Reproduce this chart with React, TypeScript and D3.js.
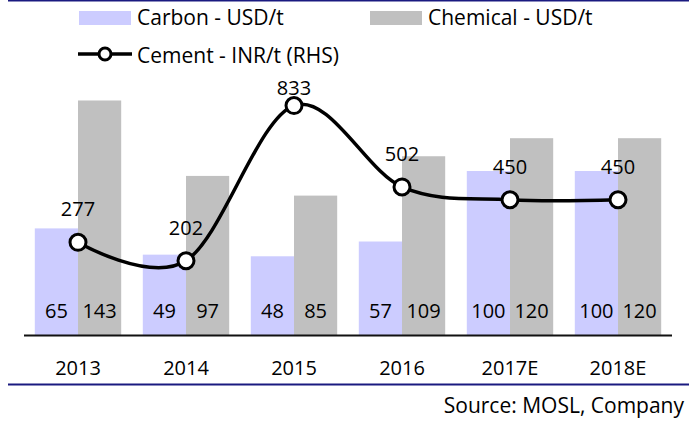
import React, { useEffect, useRef } from 'react'
import * as d3 from 'd3'

const years = ['2013', '2014', '2015', '2016', '2017E', '2018E']
const carbon = [65, 49, 48, 57, 100, 100]
const chemical = [143, 97, 85, 109, 120, 120]
const cement = [277, 202, 833, 502, 450, 450]

const W = 700
const H = 421
const FONT = '"Open Sans", sans-serif'
const NAVY = '#1a1a80'

const App = () => {
  const ref = useRef<SVGSVGElement>(null)

  useEffect(() => {
    const svg = d3.select(ref.current)
    svg.selectAll('*').remove()

    const base = 335
    const top = 72.6

    const x = d3.scaleBand<string>()
      .domain(years)
      .range([24, 672])
      .paddingInner(0.2)
      .paddingOuter(0.1)
    const half = x.bandwidth() / 2

    const yL = d3.scaleLinear().domain([0, 160]).range([base, top])
    const yR = d3.scaleLinear().domain([-100, 967]).range([base, top])

    // frame lines
    svg.append('line')
      .attr('x1', 8).attr('x2', 689).attr('y1', 0.5).attr('y2', 0.5)
      .attr('stroke', NAVY).attr('stroke-width', 2)
    svg.append('line')
      .attr('x1', 8).attr('x2', 689).attr('y1', 384.5).attr('y2', 384.5)
      .attr('stroke', NAVY).attr('stroke-width', 2)

    // legend
    const lg = svg.append('g').attr('font-family', FONT).attr('font-size', 21)
    lg.append('rect').attr('x', 79).attr('y', 11).attr('width', 52).attr('height', 14).attr('fill', '#ccccff')
    lg.append('text').attr('x', 137).attr('y', 25).text('Carbon - USD/t')
    lg.append('rect').attr('x', 370).attr('y', 11).attr('width', 52).attr('height', 14).attr('fill', '#c0c0c0')
    lg.append('text').attr('x', 428).attr('y', 25).text('Chemical - USD/t')
    lg.append('line').attr('x1', 78).attr('x2', 132).attr('y1', 54).attr('y2', 54)
      .attr('stroke', '#000').attr('stroke-width', 3.5)
    lg.append('circle').attr('cx', 105).attr('cy', 54).attr('r', 6)
      .attr('fill', '#fff').attr('stroke', '#000').attr('stroke-width', 3)
    lg.append('text').attr('x', 137).attr('y', 63).text('Cement - INR/t (RHS)')

    // bars
    const g = svg.append('g')
    g.selectAll('.carbon')
      .data(carbon)
      .join('rect')
      .attr('x', (d, i) => x(years[i])!)
      .attr('y', (d) => yL(d))
      .attr('width', half)
      .attr('height', (d) => base - yL(d))
      .attr('fill', '#ccccff')
    g.selectAll('.chem')
      .data(chemical)
      .join('rect')
      .attr('x', (d, i) => x(years[i])! + half)
      .attr('y', (d) => yL(d))
      .attr('width', half)
      .attr('height', (d) => base - yL(d))
      .attr('fill', '#c0c0c0')

    // bar labels, inside base
    const bl = svg.append('g').attr('font-family', FONT).attr('font-size', 20).attr('text-anchor', 'middle')
    carbon.forEach((d, i) => {
      bl.append('text').attr('x', x(years[i])! + half / 2).attr('y', base - 17).text(d)
    })
    chemical.forEach((d, i) => {
      bl.append('text').attr('x', x(years[i])! + half * 1.5).attr('y', base - 17).text(d)
    })

    // axis line
    svg.append('line')
      .attr('x1', 24).attr('x2', 672).attr('y1', base + 0.5).attr('y2', base + 0.5)
      .attr('stroke', '#111').attr('stroke-width', 2)

    // category labels
    svg.append('g').attr('font-family', FONT).attr('font-size', 20).attr('text-anchor', 'middle')
      .selectAll('text')
      .data(years)
      .join('text')
      .attr('x', (d) => x(d)! + half)
      .attr('y', 375)
      .text((d) => d)

    // cement line
    const pts = cement.map((v, i) => [x(years[i])! + half, yR(v)] as [number, number])
    const line = d3.line().curve(d3.curveCatmullRom.alpha(0))
    svg.append('path')
      .attr('d', line(pts))
      .attr('fill', 'none')
      .attr('stroke', '#000')
      .attr('stroke-width', 3.5)
      .attr('stroke-linejoin', 'round')
    svg.append('g')
      .selectAll('circle')
      .data(pts)
      .join('circle')
      .attr('cx', (d) => d[0])
      .attr('cy', (d) => d[1])
      .attr('r', 8)
      .attr('fill', '#fff')
      .attr('stroke', '#000')
      .attr('stroke-width', 3)
    svg.append('g').attr('font-family', FONT).attr('font-size', 20).attr('text-anchor', 'middle')
      .selectAll('text')
      .data(cement)
      .join('text')
      .attr('x', (d, i) => pts[i][0])
      .attr('y', (d, i) => Math.max(pts[i][1] - 26, 95))
      .text((d) => d)

    // source
    svg.append('text')
      .attr('x', 684).attr('y', 413)
      .attr('text-anchor', 'end')
      .attr('font-family', FONT).attr('font-size', 21)
      .text('Source: MOSL, Company')
  }, [])

  return (
    <svg ref={ref} width={W} height={H} style={{ position: 'absolute', left: 0, top: 0, background: '#fff' }}></svg>
  )
}

export default App
